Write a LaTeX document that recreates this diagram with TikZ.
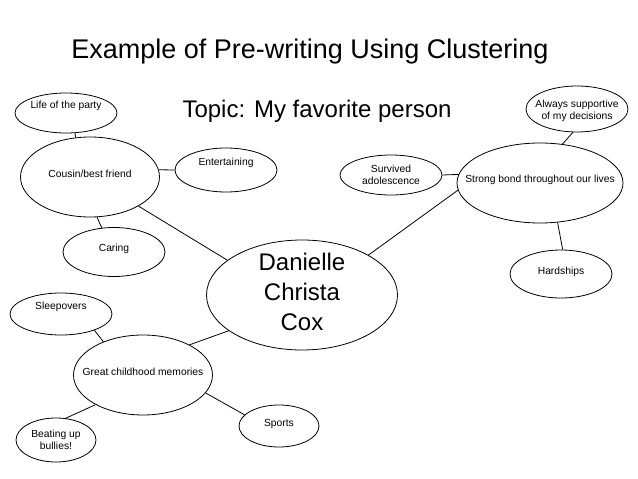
\documentclass[tikz,border=0pt]{standalone}
\usepackage{fontspec}
\setmainfont{Liberation Sans}
\usetikzlibrary{shapes.geometric}
\definecolor{ink}{HTML}{000000}
\tikzset{
  bubble/.style={draw=ink,ellipse,inner sep=0pt,line width=0.8pt},
  link/.style={draw=ink,line width=0.8pt},
  every label/.style={font=\fontsize{10.3}{12}\selectfont,align=center,inner sep=0pt}
}

\begin{document}
\begin{tikzpicture}[x=1pt,y=-1pt]
\useasboundingbox (0,0) rectangle (638,479);
% headings
\node[anchor=base,font=\fontsize{27}{32}\selectfont] (title) at (310,58) {Example of Pre-writing Using Clustering};
\node[anchor=base,font=\fontsize{24}{28}\selectfont] (topic) at (317,117) {Topic: My favorite person};
% centre
\node[bubble,minimum width=191,minimum height=110,
  label={[yshift=3pt,font=\fontsize{24}{30}\selectfont]center:Danielle\\Christa\\Cox}] (name) at (302,295) {};
% upper left cluster
\node[bubble,minimum width=139,minimum height=80,label={[yshift=3pt]center:Cousin/best friend}] (cousin) at (90,177) {};
\node[bubble,minimum width=102,minimum height=40,label={[yshift=7pt]center:Life of the party}] (party) at (66,113) {};
\node[bubble,minimum width=102,minimum height=44,label={[yshift=7pt]center:Entertaining}] (fun) at (226,170) {};
\node[bubble,minimum width=102,minimum height=49,label={[yshift=3pt]center:Caring}] (caring) at (114,252) {};
% right cluster
\node[bubble,minimum width=166,minimum height=80,label={[yshift=3pt]center:Strong bond throughout our lives}] (bond) at (540,183) {};
\node[bubble,minimum width=102,minimum height=40,label={center:Survived\\adolescence}] (teens) at (391,175) {};
\node[bubble,minimum width=102,minimum height=46,label={[yshift=-2pt]center:Always supportive\\of my decisions}] (support) at (577,109) {};
\node[bubble,minimum width=102,minimum height=48,label={[yshift=2pt]center:Hardships}] (hard) at (561,274) {};
% lower left cluster
\node[bubble,minimum width=139,minimum height=80,label={[yshift=3pt]center:Great childhood memories}] (kids) at (143,375) {};
\node[bubble,minimum width=102,minimum height=42,label={[yshift=7pt]center:Sleepovers}] (sleep) at (61,314) {};
\node[bubble,minimum width=80,minimum height=44,label={center:Beating up\\bullies!}] (bullies) at (56,440) {};
\node[bubble,minimum width=80,minimum height=42,label={[yshift=2pt]center:Sports}] (sports) at (279,426) {};
% connectors
\draw[link] (party.294) -- (cousin.110);
\draw[link] (cousin.6) -- (fun.180);
\draw[link] (cousin.280) -- (caring.117);
\draw[link] (cousin.329) -- (name.155);
\draw[link] (name.31) -- (bond.185);
\draw[link] (bond.174) -- (teens.0);
\draw[link] (bond.60) -- (support.260);
\draw[link] (bond.294) -- (hard.86);
\draw[link] (name.206) -- (kids.33);
\draw[link] (kids.140) -- (sleep.334);
\draw[link] (kids.212) -- (bullies.66);
\draw[link] (kids.344) -- (sports.162);
\end{tikzpicture}
\end{document}
